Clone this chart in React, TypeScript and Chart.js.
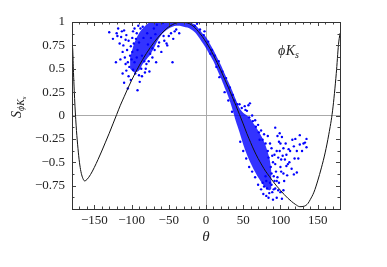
import React, { useEffect, useRef } from "react";
import { Chart, registerables } from "chart.js";

Chart.register(...registerables);

// Black model curve S(θ)
const curveTheta = [-180,-179,-178,-177,-176,-175,-174,-172,-170,-168,-166,-163,-160,-155,-150,-145,-140,-135,-130,-125,-120,-115,-110,-105,-100,-95,-90,-85,-80,-75,-70,-65,-60,-55,-50,-45,-40,-35,-30,-25,-20,-15,-10,-5,0,5,10,15,20,25,30,35,40,45,50,55,60,65,70,75,80,85,90,95,100,105,110,115,120,126,132,137,140,145,150,155,160,165,170,175,178,180];
const curveS = [0.78,0.7,0.46,0.27,0.1,-0.04,-0.16,-0.35,-0.5,-0.6,-0.66,-0.70,-0.685,-0.63,-0.555,-0.47,-0.38,-0.285,-0.19,-0.09,0.01,0.11,0.20,0.29,0.375,0.455,0.53,0.60,0.665,0.725,0.78,0.83,0.875,0.915,0.948,0.972,0.99,0.998,0.998,0.99,0.972,0.94,0.895,0.845,0.785,0.72,0.645,0.565,0.48,0.39,0.30,0.205,0.11,0.01,-0.09,-0.195,-0.29,-0.38,-0.46,-0.53,-0.595,-0.65,-0.705,-0.755,-0.80,-0.845,-0.885,-0.92,-0.95,-0.975,-0.97,-0.94,-0.9,-0.82,-0.7,-0.56,-0.4,-0.2,0.05,0.45,0.76,0.88];

// Dense core of the scan points (lower / upper edge)
const bandTheta = [-102,-96,-90,-85,-80,-75,-70,-65,-60,-55,-50,-45,-40,-35,-30,-25,-20,-15,-10,-5,0,5,10,15,20,25,30,35,40,45,50,55,60,65,70,75,80,85,88];
const bandLow = [0.5,0.46,0.48,0.55,0.6,0.65,0.72,0.8,0.86,0.9,0.93,0.95,0.96,0.96,0.95,0.94,0.92,0.89,0.84,0.78,0.72,0.65,0.58,0.49,0.4,0.3,0.2,0.08,-0.06,-0.18,-0.31,-0.42,-0.51,-0.59,-0.66,-0.72,-0.77,-0.8,-0.78];
const bandHigh = [0.62,0.78,0.88,0.93,0.97,1.0,1.0,1.0,1.0,1.0,1.0,1.0,1.0,1.0,1.0,1.0,0.99,0.97,0.93,0.88,0.84,0.77,0.7,0.62,0.54,0.45,0.36,0.27,0.17,0.08,0.03,0.0,-0.04,-0.1,-0.16,-0.23,-0.32,-0.45,-0.6];

// Scattered scan points
const scatterTheta = [-130,-120,-119,-110,-107,-98,-108,-116,-112,-121,-105,-98,-112,-105,-114,-104,-101,-106,-102,-100,-109,-96,-103,-95,-101,-92,-90,-76,-67,-52,-45,-60,-82,-75,-53,-94,-97,-92,-88,-85,-90,-86,-83,-80,-78,-72,-70,-66,-63,-57,-58,-47,-42,-84,-93,-99,-87,-79,-74,-68,
  -125,-118,-113,-111,-115,-107,-104,-99,-96,-93,-91,-89,-86,-81,-77,-72,-69,-64,-56,-50,-44,-40,-36,-110,-108,
  -15,-8,-3,3,8,12,17,22,27,32,36,38,42,25,30,35,18,-12,-2,6,14,
  57,59,53,62,66,70,74,78,72,83,86,88,84,90,92,93,99,102,126,135,120,131,133,113,122,129,135,124,119,108,115,110,122,118,95,97,100,101,104,100,95,93,90,91,102,97,96,104,106,104,107,98,88,86,82,78,92,94,89,85,81,76,80,87,91,103,108,111,116,96,100,
  45,48,52,55,58,63,67,71,76,80,83,46,50,54,58,62,66,70,74,77,81,84,88,89,93,95,98,105,109,112,99,101,126,118];
const scatterS = [0.89,0.88,0.85,0.91,0.86,0.90,0.81,0.77,0.68,0.57,0.57,0.49,0.45,0.29,0.84,0.80,0.74,0.70,0.64,0.60,0.62,0.57,0.52,0.45,0.38,0.27,0.43,0.47,0.57,0.75,0.57,0.68,0.46,0.66,0.77,0.82,0.77,0.70,0.93,0.95,0.78,0.64,0.58,0.55,0.76,0.72,0.93,0.97,0.78,0.85,0.99,0.88,0.9,0.83,0.62,0.68,0.5,0.88,0.83,0.87,
  0.82,0.93,0.9,0.75,0.6,0.48,0.42,0.83,0.93,0.88,0.96,0.36,0.42,0.5,0.58,0.62,0.7,0.74,0.8,0.85,0.82,0.92,0.88,0.35,0.55,
  0.96,0.92,0.86,0.79,0.7,0.64,0.58,0.47,0.4,0.3,0.22,0.16,0.12,0.25,0.16,0.04,0.41,0.98,0.9,0.66,0.52,
  0.11,0.13,0.06,0.0,-0.05,-0.1,-0.16,-0.2,-0.26,-0.22,-0.3,-0.35,-0.45,-0.5,-0.42,-0.13,-0.19,-0.23,-0.21,-0.25,-0.25,-0.30,-0.29,-0.38,-0.38,-0.38,-0.34,-0.46,-0.46,-0.54,-0.57,-0.52,-0.61,-0.63,-0.38,-0.45,-0.55,-0.6,-0.80,-0.82,-0.88,-0.78,-0.90,-0.79,-0.89,-0.80,-0.66,-0.62,-0.47,-0.35,-0.3,-0.28,-0.62,-0.72,-0.78,-0.76,-0.7,-0.6,-0.82,-0.83,-0.70,-0.72,-0.65,-0.55,-0.65,-0.43,-0.42,-0.36,-0.26,-0.22,-0.3,
  0.12,0.08,0.1,0.05,-0.02,-0.06,-0.12,-0.18,-0.26,-0.3,-0.38,-0.28,-0.38,-0.46,-0.55,-0.6,-0.66,-0.74,-0.79,-0.84,-0.86,-0.88,-0.74,-0.43,-0.52,-0.7,-0.72,-0.7,-0.64,-0.5,-0.38,-0.47,-0.31,-0.33];

const xTickValues = [-150, -100, -50, 0, 50, 100, 150];
const xTickLabels = ["\u2212150", "\u2212100", "\u221250", "0", "50", "100", "150"];
const yTickValues = [-0.75, -0.5, -0.25, 0, 0.25, 0.5, 0.75, 1];
const yTickLabels = ["\u22120.75", "\u22120.5", "\u22120.25", "0", "0.25", "0.5", "0.75", "1"];

const SERIF = "'Liberation Serif', 'Times New Roman', serif";

const decor = {
  id: "decor",
  afterDraw(chart: any) {
    const { ctx, chartArea: a, scales } = chart;
    const xs = scales.x, ys = scales.y;
    ctx.save();
    ctx.strokeStyle = "#444";
    ctx.lineWidth = 1;
    ctx.beginPath();
    for (let v = -170; v <= 170; v += 10) {
      const px = Math.round(xs.getPixelForValue(v)) + 0.5;
      const len = v % 50 === 0 ? 4 : 2.5;
      ctx.moveTo(px, a.bottom); ctx.lineTo(px, a.bottom - len);
      ctx.moveTo(px, a.top); ctx.lineTo(px, a.top + len);
    }
    for (let i = -7; i <= 7; i++) {
      const v = i * 0.125;
      const py = Math.round(ys.getPixelForValue(v)) + 0.5;
      const len = i % 2 === 0 ? 4 : 2.5;
      ctx.moveTo(a.left, py); ctx.lineTo(a.left + len, py);
      ctx.moveTo(a.right, py); ctx.lineTo(a.right - len, py);
    }
    ctx.stroke();
    ctx.strokeStyle = "#333";
    ctx.strokeRect(Math.round(a.left) + 0.5, Math.round(a.top) + 0.5, Math.round(a.right - a.left), Math.round(a.bottom - a.top));

    ctx.fillStyle = "#222";
    // annotation
    ctx.textBaseline = "alphabetic";
    ctx.textAlign = "left";
    ctx.font = `italic 14px ${SERIF}`;
    let x = 278;
    ctx.fillText("\u03D5", x, 55);
    x += ctx.measureText("\u03D5").width + 0.5;
    ctx.fillText("K", x, 55);
    x += ctx.measureText("K").width;
    ctx.font = `italic 10px ${SERIF}`;
    ctx.fillText("s", x, 58);

    // x title
    ctx.font = `italic 15px ${SERIF}`;
    ctx.textAlign = "center";
    ctx.textBaseline = "middle";
    ctx.fillText("\u03B8", (a.left + a.right) / 2, 237);

    // y title
    ctx.translate(21, 118);
    ctx.rotate(-Math.PI / 2);
    ctx.textAlign = "left";
    ctx.textBaseline = "alphabetic";
    ctx.font = `italic 14px ${SERIF}`;
    ctx.fillText("S", 0, 0);
    let t = ctx.measureText("S").width;
    ctx.font = `italic 10px ${SERIF}`;
    ctx.fillText("\u03D5K", t, 3);
    t += ctx.measureText("\u03D5K").width;
    ctx.font = `italic 7px ${SERIF}`;
    ctx.fillText("s", t, 5);
    ctx.restore();
  },
};

export default function App() {
  const ref = useRef<HTMLCanvasElement | null>(null);
  useEffect(() => {
    if (!ref.current) return;
    const curve = curveTheta.map((t, i) => ({ x: t, y: curveS[i] }));
    const hi = bandTheta.map((t, i) => ({ x: t, y: bandHigh[i] }));
    const lo = bandTheta.map((t, i) => ({ x: t, y: bandLow[i] }));
    const pts = scatterTheta.map((t, i) => ({ x: t, y: scatterS[i] }));
    const chart = new Chart(ref.current, {
      type: "scatter",
      data: {
        datasets: [
          { type: "line", data: curve, borderColor: "#111", borderWidth: 1, pointRadius: 0, cubicInterpolationMode: "monotone", fill: false } as any,
          { type: "scatter", data: pts, backgroundColor: "#0000ff", borderWidth: 0, pointRadius: 1.2 } as any,
          { type: "line", data: hi, borderWidth: 0, borderColor: "rgba(0,0,0,0)", pointRadius: 0, tension: 0.3, backgroundColor: "rgba(0,0,255,0.8)", fill: "+1" } as any,
          { type: "line", data: lo, borderWidth: 0, borderColor: "rgba(0,0,0,0)", pointRadius: 0, tension: 0.3, fill: false } as any,
        ],
      },
      options: {
        animation: false,
        responsive: false,
        maintainAspectRatio: false,
        layout: { padding: { left: 12, right: 47, top: 22, bottom: 18 } },
        plugins: { legend: { display: false }, tooltip: { enabled: false } },
        scales: {
          x: {
            type: "linear",
            min: -180,
            max: 180,
            afterBuildTicks: (s: any) => { s.ticks = xTickValues.map((v) => ({ value: v })); },
            afterFit: (s: any) => { s.height = 40; },
            ticks: {
              padding: 4,
              color: "#222",
              font: { family: SERIF, size: 13 },
              callback: (v: any) => xTickLabels[xTickValues.indexOf(Number(v))] ?? "",
              maxRotation: 0,
            },
            grid: {
              drawTicks: false,
              color: (c: any) => (c.tick && c.tick.value === 0 ? "#aaa" : "rgba(0,0,0,0)"),
              lineWidth: 1,
            },
            border: { display: false },
          },
          y: {
            type: "linear",
            min: -1,
            max: 1,
            afterBuildTicks: (s: any) => { s.ticks = yTickValues.map((v) => ({ value: v })); },
            afterFit: (s: any) => { s.width = 60; },
            ticks: {
              padding: 7,
              color: "#222",
              font: { family: SERIF, size: 13 },
              callback: (v: any) => yTickLabels[yTickValues.indexOf(Number(v))] ?? "",
            },
            grid: {
              drawTicks: false,
              color: (c: any) => (c.tick && c.tick.value === 0 ? "#aaa" : "rgba(0,0,0,0)"),
              lineWidth: 1,
            },
            border: { display: false },
          },
        },
      },
      plugins: [decor],
    });
    return () => chart.destroy();
  }, []);
  return (
    <div style={{ position: "fixed", left: 0, top: 0, width: 387, height: 267, background: "#fff" }}>
      <canvas ref={ref} width={387} height={267} style={{ width: 387, height: 267, display: "block" }} />
    </div>
  );
}
